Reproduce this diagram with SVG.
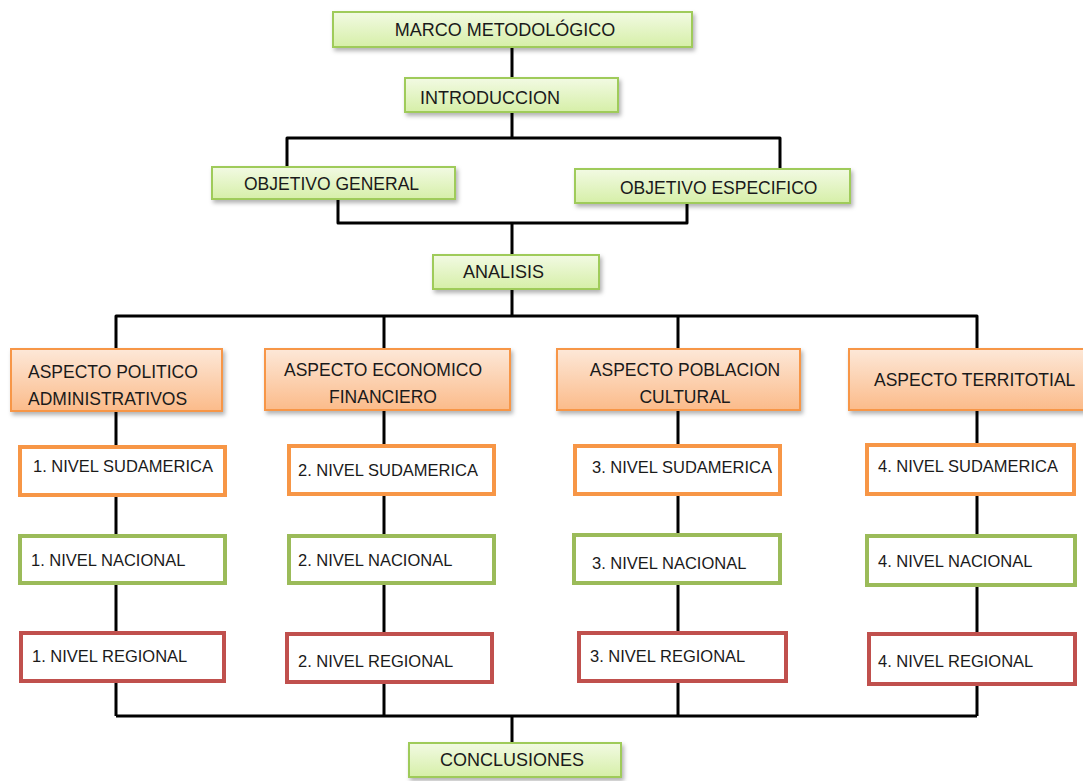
<svg xmlns="http://www.w3.org/2000/svg" width="1083" height="781" viewBox="0 0 1083 781">
<style>
text{font-family:"Liberation Sans",Arial,sans-serif;font-size:16.5px;fill:#1a1a1a}
.t{font-size:18px}
.a{font-size:17.5px}
.g{fill:url(#gg);stroke:#9fcb5a;stroke-width:2;filter:url(#sh)}
.o{fill:url(#og);stroke:#f79646;stroke-width:2;filter:url(#sh)}
.lo{fill:#fff;stroke:#f79646;stroke-width:4}
.lg{fill:#fff;stroke:#9bbb59;stroke-width:4}
.lr{fill:#fff;stroke:#c0504d;stroke-width:4}
.c{fill:none;stroke:#000;stroke-width:3;stroke-linejoin:round}
</style>
<defs>
<linearGradient id="gg" x1="0" y1="0" x2="0" y2="1"><stop offset="0" stop-color="#f2fae3"/><stop offset="1" stop-color="#d6efa8"/></linearGradient>
<linearGradient id="og" x1="0" y1="0" x2="0" y2="1"><stop offset="0" stop-color="#fde8d8"/><stop offset="1" stop-color="#fbbb8a"/></linearGradient>
<filter id="sh" x="-10%" y="-20%" width="125%" height="150%"><feDropShadow dx="2" dy="3" stdDeviation="2" flood-color="#000" flood-opacity="0.3"/></filter>
</defs>
<g id="connectors">
<path class="c" d="M512 47V78M512 112V138M287 167V138H780V169M338 199V223H687V203M512 223V255M512 289V316M116 349V316H977V349M384 349V316M678 349V316"/>
<path class="c" d="M116 411V716M384 410V716M678 410V716M977 410V716M116 716H977M512 716V743"/>
</g>
<g id="marco"><rect class="g" x="333" y="12" width="359" height="35"/><text class="t" x="505" y="36" text-anchor="middle">MARCO METODOLÓGICO</text></g>
<g id="introduccion"><rect class="g" x="405" y="78" width="213" height="34"/><text class="t" x="420" y="104">INTRODUCCION</text></g>
<g id="obj-general"><rect class="g" x="212" y="167" width="243" height="32"/><text class="a" x="244" y="190">OBJETIVO GENERAL</text></g>
<g id="obj-especifico"><rect class="g" x="575" y="169" width="275" height="34"/><text class="a" x="620" y="194">OBJETIVO ESPECIFICO</text></g>
<g id="analisis"><rect class="g" x="433" y="255" width="166" height="34"/><text class="t" x="463" y="278">ANALISIS</text></g>
<g id="asp-politico"><rect class="o" x="11" y="349" width="211" height="62"/><text class="a" x="28" y="378">ASPECTO POLITICO</text><text class="a" x="28" y="405">ADMINISTRATIVOS</text></g>
<g id="asp-economico"><rect class="o" x="265" y="349" width="245" height="61"/><text class="a" x="383" y="376" text-anchor="middle">ASPECTO ECONOMICO</text><text class="a" x="383" y="403" text-anchor="middle">FINANCIERO</text></g>
<g id="asp-poblacion"><rect class="o" x="557" y="349" width="243" height="61"/><text class="a" x="685" y="376" text-anchor="middle">ASPECTO POBLACION</text><text class="a" x="685" y="403" text-anchor="middle">CULTURAL</text></g>
<g id="asp-territorial"><rect class="o" x="849" y="349" width="240" height="61"/><text class="a" x="874" y="386">ASPECTO TERRITOTIAL</text></g>
<g id="sud1"><rect class="lo" x="20" y="447" width="205" height="48"/><text x="33" y="472">1. NIVEL SUDAMERICA</text></g>
<g id="nac1"><rect class="lg" x="20" y="536" width="205" height="47"/><text x="31" y="566">1. NIVEL NACIONAL</text></g>
<g id="reg1"><rect class="lr" x="21" y="633" width="203" height="48"/><text x="32" y="662">1. NIVEL REGIONAL</text></g>
<g id="sud2"><rect class="lo" x="289" y="446" width="205" height="48"/><text x="298" y="476">2. NIVEL SUDAMERICA</text></g>
<g id="nac2"><rect class="lg" x="289" y="536" width="205" height="47"/><text x="298" y="566">2. NIVEL NACIONAL</text></g>
<g id="reg2"><rect class="lr" x="287" y="634" width="205" height="48"/><text x="298" y="667">2. NIVEL REGIONAL</text></g>
<g id="sud3"><rect class="lo" x="575" y="446" width="205" height="48"/><text x="592" y="473">3. NIVEL SUDAMERICA</text></g>
<g id="nac3"><rect class="lg" x="574" y="535" width="206" height="48"/><text x="592" y="569">3. NIVEL NACIONAL</text></g>
<g id="reg3"><rect class="lr" x="579" y="633" width="207" height="48"/><text x="590" y="662">3. NIVEL REGIONAL</text></g>
<g id="sud4"><rect class="lo" x="867" y="445" width="207" height="49"/><text x="878" y="472">4. NIVEL SUDAMERICA</text></g>
<g id="nac4"><rect class="lg" x="867" y="536" width="208" height="49"/><text x="878" y="567">4. NIVEL NACIONAL</text></g>
<g id="reg4"><rect class="lr" x="869" y="634" width="206" height="50"/><text x="878" y="667">4. NIVEL REGIONAL</text></g>
<g id="conclusiones"><rect class="g" x="409" y="743" width="212" height="34"/><text class="t" x="440" y="766">CONCLUSIONES</text></g>
</svg>
